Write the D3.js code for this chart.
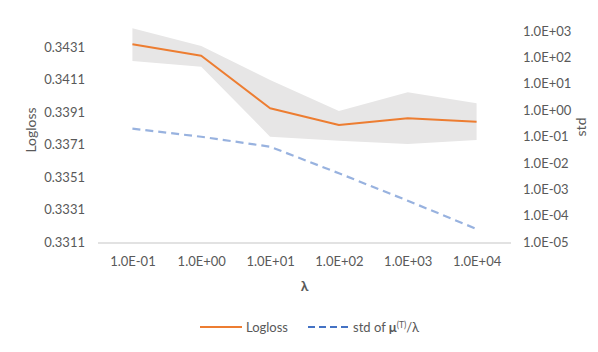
<!DOCTYPE html>
<html>
<head>
<meta charset="utf-8">
<script src="https://cdn.jsdelivr.net/npm/d3@7"></script>
<style>
  body { margin: 0; background: #fff; }
  text { font-family: Lato, "Open Sans", sans-serif; fill: #595959; }
</style>
</head>
<body>
<div id="chart"></div>
<script>
// lambda categories on the x axis
const lambdas = ["1.0E-01", "1.0E+00", "1.0E+01", "1.0E+02", "1.0E+03", "1.0E+04"]
// mean logloss and its min / max band (left axis)
const logloss = [0.34328, 0.34258, 0.33934, 0.33831, 0.33872, 0.33851]
const loglossHigh = [0.34427, 0.34318, 0.34108, 0.33917, 0.34032, 0.33965]
const loglossLow = [0.34225, 0.34190, 0.33759, 0.33734, 0.33714, 0.33738]
// std of mu(T)/lambda (right axis, log)
const stdMu = [0.198, 0.098, 0.041, 0.00403, 0.000368, 0.0000311]
// tick values
const leftTicks = [0.3311, 0.3331, 0.3351, 0.3371, 0.3391, 0.3411, 0.3431]
const rightTicks = [1e-5, 1e-4, 1e-3, 1e-2, 1e-1, 1e0, 1e1, 1e2, 1e3]

const W = 598, H = 352
const plot = {left: 98, right: 511, top: 31, bottom: 242}

const svg = d3.select("#chart").append("svg")
  .attr("width", W).attr("height", H)

const x = d3.scalePoint().domain(lambdas).range([plot.left, plot.right]).padding(0.5)
const yL = d3.scaleLinear().domain([0.3311, 0.3441]).range([plot.bottom, plot.top])
const yR = d3.scaleLog().domain([1e-5, 1e3]).range([plot.bottom, plot.top])

// excel style exponent labels, e.g. 1.0E+03
function sci(v) {
  const e = Math.round(Math.log10(v))
  return "1.0E" + (e < 0 ? "-" : "+") + String(Math.abs(e)).padStart(2, "0")
}

// grey min/max band
svg.append("path")
  .datum(lambdas)
  .attr("fill", "#e7e6e6")
  .attr("d", d3.area()
    .x(d => x(d))
    .y0((d, i) => yL(loglossLow[i]))
    .y1((d, i) => yL(loglossHigh[i])))

// bottom axis line
svg.append("line")
  .attr("x1", plot.left).attr("x2", plot.right)
  .attr("y1", plot.bottom + 1).attr("y2", plot.bottom + 1)
  .attr("stroke", "#d9d9d9").attr("stroke-width", 1.5)

// std line (dashed)
svg.append("path")
  .datum(lambdas)
  .attr("fill", "none")
  .attr("stroke", "#4472c4")
  .attr("stroke-opacity", 0.55)
  .attr("stroke-width", 2.2)
  .attr("stroke-dasharray", "8,5")
  .attr("d", d3.line().x(d => x(d)).y((d, i) => yR(stdMu[i])))

// logloss line
svg.append("path")
  .datum(lambdas)
  .attr("fill", "none")
  .attr("stroke", "#ed7d31")
  .attr("stroke-width", 2)
  .attr("stroke-linejoin", "round")
  .attr("d", d3.line().x(d => x(d)).y((d, i) => yL(logloss[i])))

// axes
const left = svg.append("g")
  .attr("transform", "translate(" + (plot.left - 13) + ",0)")
  .call(d3.axisLeft(yL).tickValues(leftTicks).tickFormat(d3.format(".4f")).tickSize(0))
const right = svg.append("g")
  .attr("transform", "translate(" + (plot.right + 12) + ",0)")
  .call(d3.axisRight(yR).tickValues(rightTicks).tickFormat(sci).tickSize(0))
const bottom = svg.append("g")
  .attr("transform", "translate(0," + (plot.bottom + 12) + ")")
  .call(d3.axisBottom(x).tickSize(0))

;[left, right, bottom].forEach(g => {
  g.select(".domain").remove()
  g.selectAll("text")
    .style("font-family", "Lato, 'Open Sans', sans-serif")
    .style("font-size", "13px")
    .attr("fill", "#595959")
})
left.selectAll("text").attr("x", 0)
right.selectAll("text").attr("x", 0)

// axis titles
svg.append("text")
  .attr("transform", "translate(36,130) rotate(-90)")
  .attr("text-anchor", "middle")
  .style("font-size", "14px")
  .text("Logloss")

svg.append("text")
  .attr("transform", "translate(586,127) rotate(-90)")
  .attr("text-anchor", "middle")
  .style("font-size", "14px")
  .text("std")

svg.append("text")
  .attr("x", (plot.left + plot.right) / 2).attr("y", 291)
  .attr("text-anchor", "middle")
  .style("font-size", "14px")
  .style("font-weight", "bold")
  .text("λ")

// legend
const legend = svg.append("g").attr("transform", "translate(0,327)")
legend.append("line")
  .attr("x1", 200).attr("x2", 242)
  .attr("stroke", "#ed7d31").attr("stroke-width", 2)
legend.append("text")
  .attr("x", 246).attr("y", 4.5)
  .style("font-size", "13px")
  .text("Logloss")
legend.append("line")
  .attr("x1", 308).attr("x2", 348)
  .attr("stroke", "#4472c4").attr("stroke-width", 2)
  .attr("stroke-dasharray", "7,4")
const lt = legend.append("text")
  .attr("x", 353).attr("y", 4.5)
  .style("font-size", "13px")
lt.append("tspan").text("std of ")
lt.append("tspan").style("font-weight", "bold").text("μ")
lt.append("tspan").attr("dy", -4).style("font-size", "8.5px").text("(T)")
lt.append("tspan").attr("dy", 4).text("/λ")
</script>
</body>
</html>
